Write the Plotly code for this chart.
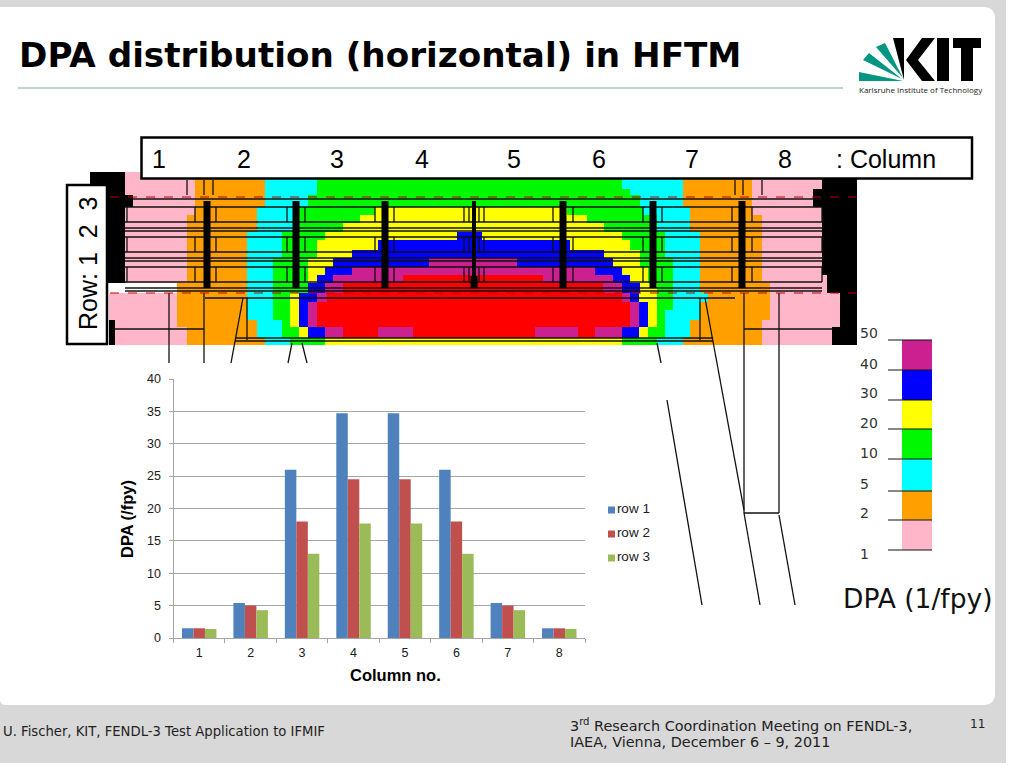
import plotly.graph_objects as go

# ---------- bar chart data ----------
columns = ["1", "2", "3", "4", "5", "6", "7", "8"]
row1 = [1.5, 5.4, 26.0, 34.7, 34.7, 26.0, 5.4, 1.5]
row2 = [1.5, 5.0, 18.0, 24.5, 24.5, 18.0, 5.0, 1.5]
row3 = [1.4, 4.3, 13.0, 17.7, 17.7, 13.0, 4.3, 1.4]
series_names = ["row 1", "row 2", "row 3"]
series_colors = ["#4F81BD", "#C0504D", "#9BBB59"]

# ---------- DPA map: level names, band edges, runs (start, then level/end pairs) ----------
levels = ["P", "O", "C", "G", "Y", "B", "M", "R", "k"]
level_colors = ["#FFB6C8", "#FFA000", "#00FFFF", "#00F800", "#FFFF00", "#0000FF", "#CC2090", "#FF0000", "#000000"]
band_edges = [172, 189, 195, 207, 215, 223, 232, 240, 250, 258, 267, 275, 283, 293, 302, 310, 320, 327, 338, 345]
band_runs = [
    (90, "k125 P195 O265 C317 G622 C683 O752 P822 k857"),
    (90, "k125 P195 O265 C317 G630 C683 O752 P813 k857"),
    (108, "k133 P195 O265 C308 G640 C683 O752 P813 k857"),
    (108, "k125 P195 O257 C299 G375 Y567 G643 C690 O752 P822 k857"),
    (108, "k125 P187 O257 C299 G360 Y587 G657 C690 O762 P822 k857"),
    (108, "k125 P187 O257 C299 G343 Y604 G657 C690 O762 P822 k857"),
    (108, "k125 P187 O247 C282 G325 Y457 B482 Y622 G665 C700 O762 P822 k857"),
    (108, "k125 P187 O247 C282 G317 Y378 B570 Y630 G665 C700 O762 P822 k857"),
    (108, "k125 P187 O247 C282 G317 Y352 B604 Y640 G665 C700 O762 P822 k857"),
    (108, "k125 P187 O247 C273 G308 Y333 B429 M517 B613 Y640 G673 C700 O762 P822 k857"),
    (108, "k125 P187 O247 C273 G308 Y325 B352 M595 B622 Y648 G673 C700 O762 P822 k857"),
    (108, "k125 P187 O247 C273 G308 Y317 B333 M403 R543 M613 B630 Y648 G673 C700 O762 P827 k857"),
    (177, "O247 C273 G308 B325 M343 R603 M622 B640 Y657 G673 C700 O770 P827 k857"),
    (109, "P177 O247 C273 G290 Y299 B317 M327 R622 M630 B639 Y657 G673 C708 O770 P840 k857"),
    (109, "P177 O247 C273 G290 Y299 B308 M317 R630 M639 B648 Y657 G673 C700 O770 P840 k857"),
    (109, "P177 O247 C273 G290 Y299 B308 M317 R630 M639 B648 Y657 G665 C700 O770 P840 k857"),
    (109, "k115 P177 O257 C282 G290 Y299 B308 M317 R630 M639 B648 Y657 G665 C690 O762 P840 k857"),
    (109, "k115 P187 O257 C282 G299 Y308 B325 M343 R378 M413 R535 M578 R595 M622 B639 Y648 G665 C690 O762 P832 k857"),
    (109, "k115 P187 O265 C290 G325 Y622 G657 C683 O762 P832 k857"),
]

# ---------- DPA scale ----------
scale_levels = ["M", "B", "Y", "G", "C", "O", "P"]
scale_edges = [340, 370, 400, 429, 459, 491, 520, 550]
scale_labels = ["50", "40", "30", "20", "10", "5", "2", "1"]
scale_label_y = [333, 364, 393, 423, 453, 484, 513, 554]

# ---------- column / row labels ----------
column_labels = ["1", "2", "3", "4", "5", "6", "7", "8", ": Column"]
column_label_x = [159, 244, 337, 422, 514, 599, 692, 785, 886]

# ---------- structure drawn over the map ----------
frame_y = [199, 207, 222, 228, 231, 237, 252, 258, 261, 267, 282, 288, 291]
frame_x_pairs = [(127, 195), (216, 287), (305, 375), (394, 464), (484, 553), (573, 643), (662, 732), (752, 822)]
window_y = [(207, 222), (237, 252), (267, 282)]
strut_x = [207, 296, 385, 563, 653, 742]
red_line_y = [197, 293]
support_lines = [
    ((205, 298), (735, 298)),
    ((169, 293), (169, 363)), ((204, 293), (204, 363)),
    ((243, 298), (231, 363)), ((247, 298), (247, 340)),
    ((292, 343), (288, 363)), ((302, 343), (307, 363)),
    ((657, 343), (661, 363)), ((667, 400), (702, 605)),
    ((700, 298), (700, 340)), ((705, 298), (744, 510)),
    ((744, 513), (760, 605)), ((779, 515), (795, 605)),
    ((744, 513), (779, 513)), ((744, 293), (744, 513)), ((779, 293), (779, 513)),
    ((744, 329), (833, 329)), ((115, 329), (204, 329)),
    ((235, 338), (713, 338)), ((235, 341), (713, 341)),
    ((187, 180), (187, 195)), ((204, 180), (204, 195)), ((213, 180), (213, 195)),
    ((735, 180), (735, 195)), ((743, 180), (743, 195)), ((762, 180), (762, 195)),
]

# ---------- logo polygons ----------
logo_teal = [
    [(859, 72), (859, 81), (903, 81)],
    [(863, 60), (869, 53), (902, 79)],
    [(876, 47), (885, 43), (903, 78)],
]
logo_black = [
    [(893, 38), (904, 38), (904, 80)],
    [(922, 38), (935, 38), (918, 60), (935, 81), (922, 81), (906, 60)],
    [(937, 38), (949, 38), (949, 81), (937, 81)],
    [(953, 38), (981, 38), (981, 48), (973, 48), (973, 81), (961, 81), (961, 48), (953, 48)],
]

W, H = 1024, 768
ARIAL = "Liberation Sans, Arial, sans-serif"
VERDANA = "DejaVu Sans, Verdana, sans-serif"


def poly_xy(polys):
    xs, ys = [], []
    for poly in polys:
        pts = list(poly) + [poly[0]]
        xs += [p[0] for p in pts] + [None]
        ys += [p[1] for p in pts] + [None]
    return xs, ys


def seg_xy(segs):
    xs, ys = [], []
    for a, b in segs:
        xs += [a[0], b[0], None]
        ys += [a[1], b[1], None]
    return xs, ys


def parse_runs(start, text):
    cur = start
    out = []
    for tok in text.split():
        end = int(tok[1:])
        out.append((cur, end, levels.index(tok[0])))
        cur = end
    return out


parsed = [parse_runs(s, t) for s, t in band_runs]
x_edges = sorted({v for runs in parsed for r in runs for v in r[:2]})
z = []
for runs in parsed:
    row = []
    for i in range(len(x_edges) - 1):
        mid = (x_edges[i] + x_edges[i + 1]) / 2
        hit = [r[2] for r in runs if r[0] <= mid < r[1]]
        row.append(hit[0] if hit else None)
    z.append(row)

n = len(levels)
colorscale = []
for i, c in enumerate(level_colors):
    colorscale += [[i / n, c], [(i + 1) / n, c]]

fig = go.Figure()

# slide-space axes (x, y): drawn first, the chart subplot lies above them
slide = dict(xaxis="x", yaxis="y", hoverinfo="skip", showlegend=False)

fig.add_trace(go.Heatmap(x=x_edges, y=band_edges, z=z, colorscale=colorscale, zmin=0, zmax=n,
                         showscale=False, **slide))
fig.add_trace(go.Heatmap(x=[902, 932], y=scale_edges, z=[[levels.index(l)] for l in scale_levels],
                         colorscale=colorscale, zmin=0, zmax=n, showscale=False, **slide))

hsegs = [((125, y), (822, y)) for y in frame_y]
vsegs = [((x, a), (x, b)) for pair in frame_x_pairs for x in pair for a, b in window_y]
vsegs += [((469, a), (469, b)) for a, b in window_y] + [((479, a), (479, b)) for a, b in window_y]
x1, y1 = seg_xy(hsegs + vsegs + support_lines)
fig.add_trace(go.Scatter(x=x1, y=y1, mode="lines", line=dict(color="#101010", width=1.3), **slide))

x2, y2 = seg_xy([((x, 201), (x, 288)) for x in strut_x])
fig.add_trace(go.Scatter(x=x2, y=y2, mode="lines", line=dict(color="#000000", width=7), **slide))
x3, y3 = seg_xy([((474, 201), (474, 276))])
fig.add_trace(go.Scatter(x=x3, y=y3, mode="lines", line=dict(color="#000000", width=4), **slide))
x3b, y3b = seg_xy([((474, 276), (474, 288))])
fig.add_trace(go.Scatter(x=x3b, y=y3b, mode="lines", line=dict(color="#000000", width=7), **slide))

x4, y4 = seg_xy([((110, y), (857, y)) for y in red_line_y])
fig.add_trace(go.Scatter(x=x4, y=y4, mode="lines", line=dict(color="#C00000", width=1, dash="dash"), **slide))

x5, y5 = seg_xy([((888, y), (932, y)) for y in scale_edges])
fig.add_trace(go.Scatter(x=x5, y=y5, mode="lines", line=dict(color="#101010", width=1.2), **slide))

key_x = [611.5, 611.5, 611.5]
key_y = [510, 534, 558]
fig.add_trace(go.Scatter(x=key_x, y=key_y, mode="markers+text", text=series_names, textposition="middle right",
                         textfont=dict(family=ARIAL, size=13.5, color="#202020"),
                         marker=dict(symbol="square", size=7, color=series_colors), **slide))

lx, ly = poly_xy(logo_teal)
fig.add_trace(go.Scatter(x=lx, y=ly, mode="lines", fill="toself", fillcolor="#009682", line=dict(width=0), **slide))
lx, ly = poly_xy(logo_black)
fig.add_trace(go.Scatter(x=lx, y=ly, mode="lines", fill="toself", fillcolor="#000000", line=dict(width=0), **slide))

# bar chart on its own real axes
for name, vals, col in zip(series_names, [row1, row2, row3], series_colors):
    fig.add_trace(go.Bar(x=columns, y=vals, name=name, marker=dict(color=col, line=dict(width=0)),
                         showlegend=False, xaxis="x2", yaxis="y2"))


def note(x, y, text, size, family=VERDANA, color="#222222", anchor="left", **kw):
    return dict(x=x, y=y, xref="x", yref="y", text=text, showarrow=False, xanchor=anchor, yanchor="middle",
                font=dict(family=family, size=size, color=color), **kw)


annotations = [
    note(17, 55, "<b>DPA distribution (horizontal) in HFTM</b>", 34.2, color="#000000"),
    note(857, 89, "Karlsruhe Institute of Technology", 8, family="Open Sans, sans-serif"),
    note(1, 731, "U. Fischer, KIT, FENDL-3 Test Application to IFMIF", 13.2),
    note(568, 725, "3<sup>rd</sup> Research Coordination Meeting on FENDL-3,", 14.4),
    note(568, 742, "IAEA, Vienna, December 6 – 9, 2011", 14.4),
    note(968, 724, "11", 12),
    note(841, 598, "DPA (1/fpy)", 26.5, color="#111111"),
    note(88, 264, "Row: 1  2  3", 25, family=ARIAL, color="#000000", anchor="center", textangle=-90),
    note(395, 675, "<b>Column no.</b>", 16.5, family=ARIAL, color="#000000", anchor="center"),
    note(127, 519, "<b>DPA (/fpy)</b>", 16.5, family=ARIAL, color="#000000", anchor="center", textangle=-90),
]
for lab, x in zip(column_labels, column_label_x):
    annotations.append(note(x, 159, lab, 25, family=ARIAL, color="#000000", anchor="center"))
for lab, y in zip(scale_labels, scale_label_y):
    annotations.append(note(858, y, lab, 14, color="#333333"))

shapes = [
    dict(type="rect", xref="x", yref="y", x0=0, x1=1006, y0=0, y1=763, fillcolor="#D8D8D8",
         line_width=0, layer="below"),
    dict(type="path", xref="x", yref="y", layer="below", fillcolor="#FFFFFF", line_width=0,
         path="M0,7 H983 Q995,7 995,19 V693 Q995,705 983,705 H6 Q0,705 0,699 Z"),
    dict(type="line", xref="x", yref="y", x0=18, x1=843, y0=88, y1=88, layer="below",
         line=dict(color="#7BA8A0", width=1)),
    dict(type="rect", xref="x", yref="y", x0=141.5, x1=972, y0=137.5, y1=178.5, fillcolor="#FFFFFF",
         line=dict(color="#000000", width=2.5), layer="above"),
    dict(type="rect", xref="x", yref="y", x0=67, x1=107, y0=185, y1=344, fillcolor="#FFFFFF",
         line=dict(color="#000000", width=2.5), layer="above"),
]

GRAY = "#A6A6A6"
fig.update_layout(
    width=W, height=H, margin=dict(l=0, r=0, t=0, b=0, pad=0),
    paper_bgcolor="#FFFFFF", plot_bgcolor="rgba(0,0,0,0)",
    barmode="group", bargap=0.33, bargroupgap=0, showlegend=False,
    annotations=annotations, shapes=shapes,
    xaxis2=dict(domain=[173.5 / W, 585 / W], anchor="y2", type="category", tickson="boundaries",
                ticks="outside", ticklen=4, tickcolor=GRAY, showline=True, linecolor=GRAY, linewidth=1,
                showgrid=False, zeroline=False, automargin=False, ticklabelstandoff=3,
                tickfont=dict(family=ARIAL, size=12.5, color="#202020")),
    yaxis2=dict(domain=[(H - 638) / H, (H - 379) / H], anchor="x2", range=[0, 40], dtick=5,
                ticks="outside", ticklen=4, tickcolor=GRAY, showline=True, linecolor=GRAY, linewidth=1,
                showgrid=True, gridcolor=GRAY, gridwidth=1, zeroline=False, automargin=False, ticklabelstandoff=5,
                tickfont=dict(family=ARIAL, size=12.5, color="#202020")),
    xaxis=dict(domain=[0, 1], range=[0, W], anchor="y", visible=False, fixedrange=True, automargin=False),
    yaxis=dict(domain=[0, 1], range=[H, 0], anchor="x", visible=False, fixedrange=True, automargin=False),
)

fig.write_html("out.html", config={"displayModeBar": False},
               post_script="document.body.style.margin='0';document.body.style.overflow='hidden';")
